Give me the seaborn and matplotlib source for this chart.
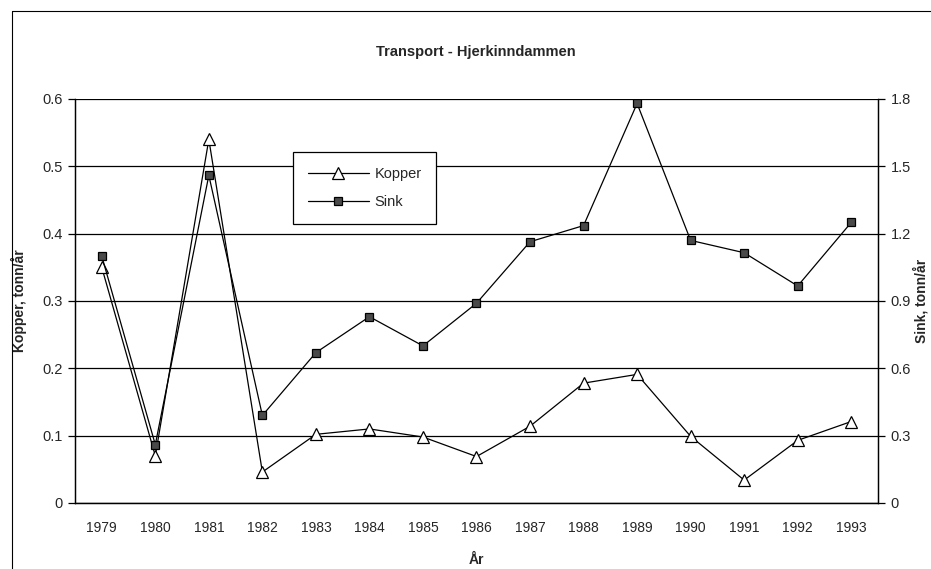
import numpy as np
import pandas as pd
import matplotlib
matplotlib.use("Agg")
import matplotlib.pyplot as plt
from matplotlib.lines import Line2D
import seaborn as sns

# data
years = [1979, 1980, 1981, 1982, 1983, 1984, 1985, 1986, 1987, 1988, 1989, 1990, 1991, 1992, 1993]
kopper = [0.35, 0.07, 0.54, 0.046, 0.102, 0.11, 0.098, 0.069, 0.114, 0.178, 0.191, 0.099, 0.034, 0.093, 0.121]
sink = [1.10, 0.26, 1.46, 0.39, 0.67, 0.83, 0.70, 0.89, 1.164, 1.236, 1.78, 1.17, 1.115, 0.967, 1.25]
left_ticks = [0, 0.1, 0.2, 0.3, 0.4, 0.5, 0.6]
right_ticks = [0, 0.3, 0.6, 0.9, 1.2, 1.5, 1.8]

df = pd.DataFrame({"År": years, "Kopper": kopper, "Sink": sink})

sns.set_style("white")
plt.rcParams["font.family"] = ["Liberation Sans", "DejaVu Sans"]

fig = plt.figure(figsize=(9.31, 5.69), dpi=100)
ax = fig.add_axes([75 / 931, 1 - 503 / 569, 803 / 931, 404 / 569])
ax2 = ax.twinx()

sns.lineplot(data=df, x="År", y="Kopper", ax=ax, color="black", linewidth=0.9,
             marker="^", markersize=8, markerfacecolor="white",
             markeredgecolor="black", markeredgewidth=0.9, label="Kopper", legend=False)
sns.lineplot(data=df, x="År", y="Sink", ax=ax2, color="black", linewidth=0.9,
             marker="s", markersize=6, markerfacecolor="#4a4a4a",
             markeredgecolor="black", markeredgewidth=0.9, label="Sink", legend=False)

ax.set_xlim(years[0] - 0.5, years[-1] + 0.5)
ax.set_ylim(0, 0.6)
ax2.set_ylim(0, 1.8)
ax.set_yticks(left_ticks)
ax.set_yticklabels([f"{v:g}" for v in left_ticks])
ax2.set_yticks(right_ticks)
ax2.set_yticklabels([f"{v:g}" for v in right_ticks])
ax.set_xticks(years)
ax.set_xticklabels([str(y) for y in years])
ax.set_xticks(np.arange(years[0] - 0.5, years[-1] + 1, 1), minor=True)

ax.grid(axis="y", color="black", linewidth=0.9)
ax.grid(axis="x", visible=False)
ax2.grid(False)
ax.set_axisbelow(True)

for a in (ax, ax2):
    a.spines["top"].set_visible(False)
    for s in ("left", "right", "bottom"):
        a.spines[s].set_color("black")
        a.spines[s].set_linewidth(0.9)

ax.tick_params(axis="x", which="major", length=0, pad=13, labelsize=10)
ax.tick_params(axis="x", which="minor", direction="inout", length=9, width=0.9, color="black")
ax.tick_params(axis="y", direction="out", length=5, width=0.9, color="black", pad=4, labelsize=10.5, left=True)
ax2.tick_params(axis="y", direction="out", length=5, width=0.9, color="black", pad=4, labelsize=10.5, right=True)

ax.set_xlabel("År", fontsize=10, fontweight="bold")
ax.xaxis.set_label_coords(0.5, -0.125)
ax.set_ylabel("Kopper, tonn/år", fontsize=10, fontweight="bold")
ax.yaxis.set_label_coords(-0.06, 0.5)
ax2.set_ylabel("Sink, tonn/år", fontsize=10, fontweight="bold")
ax2.yaxis.set_label_coords(1.044, 0.5)

fig.text(476 / 931, 1 - 52 / 569, "Transport - Hjerkinndammen", ha="center", va="center",
         fontsize=10.5, fontweight="bold")

h1, l1 = ax.get_legend_handles_labels()
h2, l2 = ax2.get_legend_handles_labels()
leg = ax2.legend(h1 + h2, l1 + l2, loc="upper left", bbox_to_anchor=(0.2715, 0.868),
                 frameon=True, fancybox=False, shadow=False, edgecolor="black",
                 framealpha=1, fontsize=10.5, handlelength=4.2, borderpad=1.0,
                 labelspacing=1.0, handletextpad=0.4, borderaxespad=0)
leg.get_frame().set_linewidth(0.9)

# outer chart border (cut by the scan on right and bottom)
fig.add_artist(Line2D([12 / 931, 12 / 931], [0, 1 - 11 / 569], color="black", linewidth=0.8))
fig.add_artist(Line2D([12 / 931, 1], [1 - 11 / 569, 1 - 11 / 569], color="black", linewidth=0.8))

fig.savefig("out.png", dpi=100)
